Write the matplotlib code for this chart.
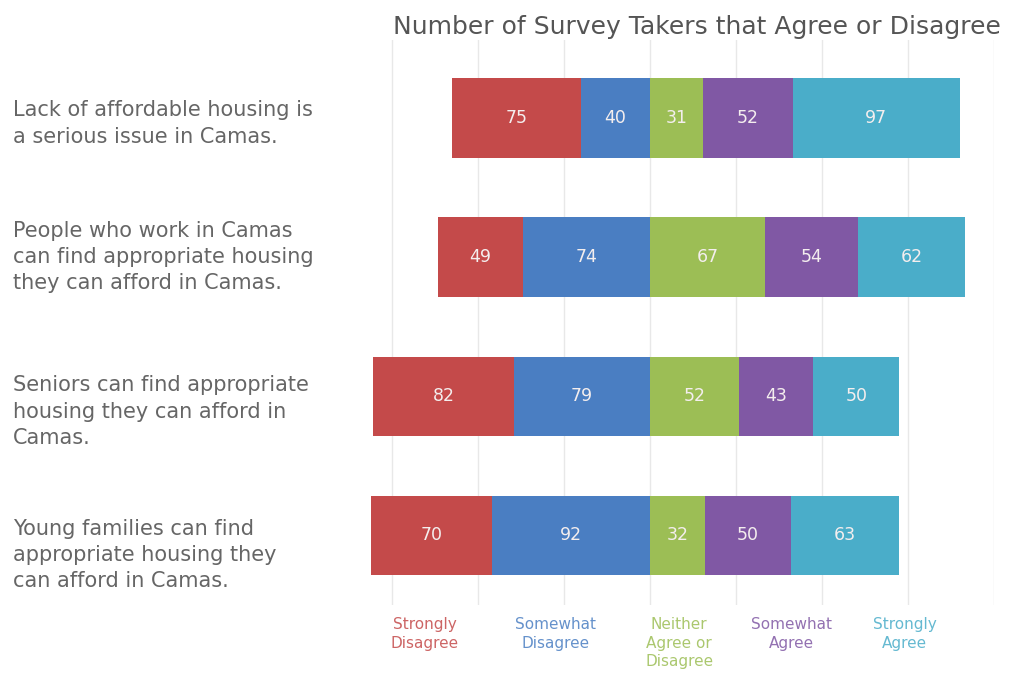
import numpy as np
import matplotlib.pyplot as plt
from matplotlib import transforms

questions = [
    "Lack of affordable housing is\na serious issue in Camas.",
    "People who work in Camas\ncan find appropriate housing\nthey can afford in Camas.",
    "Seniors can find appropriate\nhousing they can afford in\nCamas.",
    "Young families can find\nappropriate housing they\ncan afford in Camas.",
]
categories = ["Strongly\nDisagree", "Somewhat\nDisagree", "Neither\nAgree or\nDisagree",
              "Somewhat\nAgree", "Strongly\nAgree"]
strongly_disagree = [75, 49, 82, 70]
somewhat_disagree = [40, 74, 79, 92]
neither = [31, 67, 52, 32]
somewhat_agree = [52, 54, 43, 50]
strongly_agree = [97, 62, 50, 63]

colors = ["#c44a4a", "#4a7ec2", "#9cbe55", "#8058a4", "#4aadc9"]
text_col = "#666666"

W, H = 1016, 675
fig = plt.figure(figsize=(W / 100, H / 100), dpi=100)
xmin, xmax = -170, 200
ax = fig.add_axes([357.6 / W, 1 - 605 / H, (994 - 357.6) / W, (605 - 40) / H])

series = [strongly_disagree, somewhat_disagree, neither, somewhat_agree, strongly_agree]
y = np.arange(len(questions))
# bars are aligned on the disagree / neutral boundary
left = -(np.array(strongly_disagree) + np.array(somewhat_disagree))

for x in np.arange(-150, 201, 50):
    ax.axvline(x, color="#e8e8e8", lw=1, zorder=0)

for vals, col in zip(series, colors):
    vals = np.array(vals)
    ax.barh(y, vals, left=left, height=0.57, color=col, zorder=2)
    for yi, l, v in zip(y, left, vals):
        ax.text(l + v / 2, yi, str(v), ha="center", va="center",
                color="#f4eeee", fontsize=12.5, zorder=3)
    left = left + vals

ax.set_xlim(xmin, xmax)
ax.set_ylim(3.5, -0.56)
ax.axis("off")

label_dy = [0.04, 0.0, 0.11, 0.14]
qtrans = transforms.blended_transform_factory(fig.transFigure, ax.transData)
for yi, q, dy in zip(y, questions, label_dy):
    ax.text(13 / W, yi + dy, q, transform=qtrans,
            ha="left", va="center", fontsize=15, color=text_col, linespacing=1.4)

cat_x = [-131, -55, 17, 82, 148]
trans = transforms.blended_transform_factory(ax.transData, fig.transFigure)
for cx, c, col in zip(cat_x, categories, colors):
    ax.text(cx, 1 - 617 / H, c, transform=trans, ha="center", va="top",
            fontsize=11, color=col, alpha=0.85, linespacing=1.3)

fig.text(697 / W, 1 - 27 / H, "Number of Survey Takers that Agree or Disagree",
         ha="center", va="center", fontsize=18, color="#555555")

fig.savefig("out.png", dpi=100)
